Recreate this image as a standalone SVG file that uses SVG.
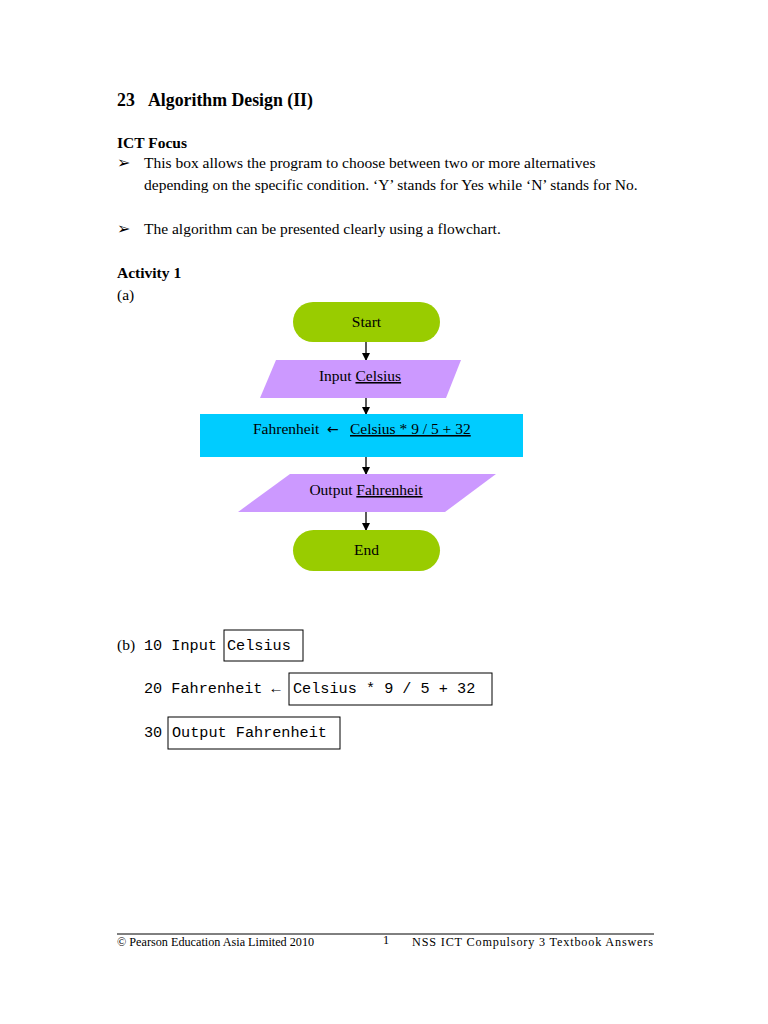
<svg xmlns="http://www.w3.org/2000/svg" width="768" height="1024" viewBox="0 0 768 1024">
<defs>
<marker id="ah" markerWidth="8" markerHeight="8" refX="7" refY="4" orient="auto" markerUnits="userSpaceOnUse">
<path d="M0,0 L8,4 L0,8 Z" fill="#000"/>
</marker>
<style>
.t{font-family:"Liberation Serif","Times New Roman",serif;font-size:15.5px;fill:#000}
.b{font-weight:bold}
.m{font-family:"Liberation Mono","Courier New",monospace;font-size:15.2px;fill:#000}
.f{font-family:"Liberation Serif","Times New Roman",serif;font-size:12.2px;fill:#000}
.term{fill:#99CC00}
.io{fill:#CC99FF}
.proc{fill:#00CCFF}
.c{stroke:#000;stroke-width:1.3;fill:none;marker-end:url(#ah)}
.box{fill:none;stroke:#000;stroke-width:1}
.u{text-decoration:underline}
.ar{font-family:"DejaVu Sans",sans-serif;font-size:14px;fill:#000}
</style>
</defs>
<rect width="768" height="1024" fill="#fff"/>

<text class="t b" x="117" y="106" style="font-size:17.8px">23</text>
<text class="t b" x="148" y="106" style="font-size:17.8px">Algorithm Design (II)</text>
<text class="t b" x="117" y="148">ICT Focus</text>
<text class="t" x="117" y="168">➢</text>
<text class="t" x="144" y="168">This box allows the program to choose between two or more alternatives</text>
<text class="t" x="144" y="190">depending on the specific condition. ‘Y’ stands for Yes while ‘N’ stands for No.</text>
<text class="t" x="117" y="234">➢</text>
<text class="t" x="144" y="234">The algorithm can be presented clearly using a flowchart.</text>
<text class="t b" x="117" y="278">Activity 1</text>
<text class="t" x="117" y="300">(a)</text>

<g id="connectors">
<line class="c" x1="366" y1="342" x2="366" y2="360"/>
<line class="c" x1="366" y1="398" x2="366" y2="414"/>
<line class="c" x1="366" y1="457" x2="366" y2="474"/>
<line class="c" x1="366" y1="512" x2="366" y2="530"/>
</g>

<g id="start">
<rect class="term" x="293" y="302" width="147" height="40" rx="20" ry="20"/>
<text class="t" x="366.5" y="327" text-anchor="middle">Start</text>
</g>
<g id="input">
<polygon class="io" points="276,360 461,360 446,398 260,398"/>
<text class="t" x="360" y="381" text-anchor="middle">Input <tspan class="u">Celsius</tspan></text>
</g>
<g id="process">
<rect class="proc" x="200" y="414" width="323" height="43"/>
<text class="t" x="253" y="434">Fahrenheit</text>
<text class="ar" x="327" y="434">←</text>
<text class="t u" x="350" y="434">Celsius * 9 / 5 + 32</text>
</g>
<g id="output">
<polygon class="io" points="290,474 496,474 445,512 238,512"/>
<text class="t" x="366" y="495" text-anchor="middle">Output <tspan class="u">Fahrenheit</tspan></text>
</g>
<g id="end">
<rect class="term" x="293" y="530" width="147" height="41" rx="20.5" ry="20.5"/>
<text class="t" x="366.5" y="555" text-anchor="middle">End</text>
</g>

<g id="partb">
<text class="t" x="117" y="650">(b)</text>
<text class="m" x="144" y="650">10 Input</text>
<rect class="box" x="224" y="630" width="79" height="31"/>
<text class="m" x="227" y="650">Celsius</text>
<text class="m" x="144" y="693">20 Fahrenheit ←</text>
<rect class="box" x="289" y="673" width="203" height="32"/>
<text class="m" x="293" y="693">Celsius * 9 / 5 + 32</text>
<text class="m" x="144" y="737">30</text>
<rect class="box" x="168" y="717" width="172" height="32"/>
<text class="m" x="172" y="737">Output Fahrenheit</text>
</g>

<line x1="117" y1="934" x2="654" y2="934" stroke="#000" stroke-width="1"/>
<text class="f" x="117" y="946">© Pearson Education Asia Limited 2010</text>
<text class="f" x="383" y="944">1</text>
<text class="f" x="412" y="946" textLength="241" lengthAdjust="spacing">NSS ICT Compulsory 3 Textbook Answers</text>
</svg>
